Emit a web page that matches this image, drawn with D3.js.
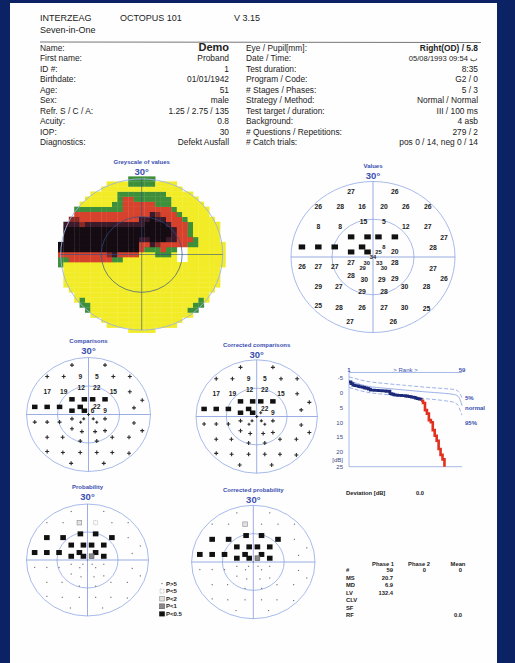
<!DOCTYPE html>
<html><head><meta charset="utf-8">
<script src="https://cdn.jsdelivr.net/npm/d3@7"></script>
<style>
html,body{margin:0;padding:0;background:#0b2265;}
svg{display:block;}
text{font-family:"Liberation Sans",Arial,sans-serif;}
</style></head><body>
<svg id="c" width="515" height="663"></svg>
<script>
// ---- Test point grid (degrees, right eye) ----
const pointX = [-8,8,-20,-12,-4,4,12,20,-20,-12,-3.5,4,12,20,26,-8,-2,2,8,-26,-20,-14,-4,4,-8,-2,2,8,22,0,
  -26,-20,-14,-8,-2.3,2.3,8,-3.8,4,22,26,-8,-3.2,3.2,8,-20,-12.5,-4,4,11.5,19.6,-20,-12.4,-4,4,11.5,19.6,-8.4,7.4];
const pointY = [26,26,20,20,20,20,20,20,12,12,14,14,12,12,7.5,8,8,8,8,4,4,4,4,4,2,2,2,2,3.5,0,
  -4,-4,-4,-2.3,-2.3,-2.3,-2.3,-4.1,-4.1,-4.5,-8.5,-7.5,-9,-9,-8.5,-12,-12,-14,-14,-12,-12,-19.5,-20,-20,-20,-20,-20.4,-25.7,-25.7];
// Measured thresholds in dB (0 = absolute defect, drawn as a square)
const thresholds = [27,26,26,28,16,20,26,26,8,8,15,5,12,27,27,0,0,0,0,0,0,0,0,8,0,0,25,20,28,34,
  26,27,27,27,30,33,28,29,30,27,26,28,30,29,29,29,27,29,28,30,28,25,28,26,27,30,25,27,26];
// Local deviation from normal (null = within normal range, shown as +)
const comparisons = [null,null,null,null,9,5,null,null,17,19,12,22,15,null,null,null,null,null,null,null,null,null,null,22,null,null,6,9,null,null,
  null,null,null,null,null,null,null,null,null,null,null,null,null,null,null,null,null,null,null,null,null,null,null,null,null,null,null,null,null];
const correctedComparisons = [null,null,null,null,9,5,null,null,17,19,12,22,15,null,null,null,null,null,null,null,null,null,null,22,null,null,null,9,null,null,
  null,null,null,null,null,null,null,null,null,null,null,null,null,null,null,null,null,null,null,null,null,null,null,null,null,null,null,null,null];
// Probability class: 0 P>5, 1 P<5, 2 P<2, 3 P<1, 4 P<0.5
const probability = [0,0,0,0,2,1,0,0,4,4,4,4,4,0,0,4,4,4,4,4,4,4,4,4,4,4,3,4,0,0,
  0,0,0,0,0,0,0,0,0,0,0,0,0,0,0,0,0,0,0,0,0,0,0,0,0,0,0,0,0];
const correctedProbability = [0,0,0,0,2,0,0,0,4,4,4,4,4,0,0,4,4,4,4,4,4,4,4,4,4,4,3,4,0,0,
  0,0,0,0,0,0,0,0,0,0,0,0,0,0,0,0,0,0,0,0,0,0,0,0,0,0,0,0,0];
const probLegend = ["P>5","P<5","P<2","P<1","P<0.5"];
// Blind spot (degrees) left blank in the greyscale
const blindSpotX = [13,17];
const blindSpotY = [-3,3];

// ---- Cumulative defect curve (Bebie) ----
const rankDeviation = [-3.8,-3.2,-2.7,-2.5,-2.4,-2.2,-2.1,-1.9,-1.7,-1.6,-1.3,-1.0,-1.0,-0.9,-0.9,-0.8,-0.8,-0.7,-0.7,-0.6,
  -0.6,0.2,0.4,0.6,0.7,0.8,0.8,0.9,0.9,1.0,1.1,1.2,1.4,1.5,1.7,1.9,2.1,2.6,3.4,5.8,7.0,9.2,9.9,12.6,14.5,16.2,19.0,21.0,22.5,25.0];
const refRanks = [1,10,20,30,40,50,55,57,58,59];
const ref5 = [-5.5,-4.0,-3.2,-2.6,-2.0,-1.5,-1.2,-0.6,0.2,1.5];
const refNormal = [-4.2,-2.4,-1.6,-1.0,-0.4,0.1,0.5,1.1,2.2,4.3];
const ref95 = [-1.9,-0.3,0.5,1.2,1.9,2.6,3.2,4.2,5.8,7.5];
const dbTicks = [-5,0,5,10,15,20,25];

// ---- Header / patient data ----
const infoLabels = ["Name:","First name:","ID #:","Birthdate:","Age:","Sex:","Refr. S / C / A:","Acuity:","IOP:","Diagnostics:"];
const infoValues = ["Demo","Proband","1","01/01/1942","51","male","1.25 / 2.75 / 135","0.8","30","Defekt Ausfall"];
const testLabels = ["Eye / Pupil[mm]:","Date / Time:","Test duration:","Program / Code:","# Stages / Phases:","Strategy / Method:","Test target / duration:","Background:","# Questions / Repetitions:","# Catch trials:"];
const testValues = ["Right(OD) / 5.8","05/08/1993    09:54 ب","8:35","G2 / 0","5 / 3","Normal / Normal","III / 100 ms","4 asb","279 / 2","pos 0 / 14, neg 0 / 14"];
const statRows = ["#","MS","MD","LV","CLV","SF","RF"];
const statPhase1 = ["59","20.7","6.9","132.4","","",""];
const statPhase2 = ["0","","","","","",""];
const statMean = ["0","","","","","","0.0"];

const svg = d3.select("#c");
const BLUE = "#3a4fb0", LINE = "#9db2e8", AX = "#8399dd", INK = "#222";

svg.append("rect").attr("x",10).attr("y",3).attr("width",487).attr("height",670).attr("fill","#fefefe");

// Header
const hdr = svg.append("g").attr("fill",INK).attr("font-size",9);
hdr.append("text").attr("x",40).attr("y",20.5).text("INTERZEAG");
hdr.append("text").attr("x",40).attr("y",33).text("Seven-in-One");
hdr.append("text").attr("x",120).attr("y",20.5).text("OCTOPUS  101");
hdr.append("text").attr("x",234).attr("y",20.5).text("V 3.15");
svg.append("line").attr("x1",40).attr("x2",481).attr("y1",42).attr("y2",42.5).attr("stroke","#666").attr("stroke-width",0.9);

const rowY = i => 51 + i*10.45;
const info = svg.append("g").attr("fill",INK).attr("font-size",8.4);
infoLabels.forEach((t,i)=>info.append("text").attr("x",40).attr("y",rowY(i)).text(t));
infoValues.forEach((t,i)=>info.append("text").attr("x",229).attr("y",rowY(i)).attr("text-anchor","end")
  .attr("font-size",i===0?11:8.4).attr("font-weight",i===0?"bold":null).text(t));
testLabels.forEach((t,i)=>info.append("text").attr("x",246).attr("y",rowY(i)).text(t));
testValues.forEach((t,i)=>info.append("text").attr("x",478).attr("y",rowY(i)).attr("text-anchor","end")
  .attr("font-weight",i===0?"bold":null)
  .attr("font-family",i===1?"'Liberation Serif',serif":null).attr("font-size",i===1?7.6:8.4).text(t));

// ---- Polar panel helper ----
function panel(cfg){
  const g = svg.append("g");
  const x = d3.scaleLinear().domain([-30,30]).range([cfg.cx-cfg.rx, cfg.cx+cfg.rx]);
  const y = d3.scaleLinear().domain([-30,30]).range([cfg.cy+cfg.ry, cfg.cy-cfg.ry]);
  g.append("text").attr("x",cfg.cx).attr("y",cfg.ty).attr("text-anchor","middle").attr("fill",BLUE)
    .attr("font-size",6).attr("font-weight","bold").text(cfg.title);
  g.append("text").attr("x",cfg.cx).attr("y",cfg.ty+11).attr("text-anchor","middle").attr("fill",BLUE)
    .attr("font-size",9.5).attr("font-weight","bold").text("30°");
  return {g,x,y,cfg};
}
function frame(p, axisColor, innerColor, op){
  const {g,x,y}=p;
  const f = g.append("g").attr("fill","none");
  f.append("ellipse").attr("cx",x(0)).attr("cy",y(0)).attr("rx",x(30)-x(0)).attr("ry",y(0)-y(30))
    .attr("stroke",LINE).attr("stroke-width",0.9);
  f.append("ellipse").attr("cx",x(0)).attr("cy",y(0)).attr("rx",x(15)-x(0)).attr("ry",y(0)-y(15))
    .attr("stroke",innerColor||LINE).attr("stroke-width",0.9).attr("opacity",op||1);
  f.append("line").attr("x1",x(-30)).attr("x2",x(30)).attr("y1",y(0)).attr("y2",y(0)).attr("stroke",axisColor||AX).attr("stroke-width",0.8).attr("opacity",op||1);
  f.append("line").attr("x1",x(0)).attr("x2",x(0)).attr("y1",y(-30)).attr("y2",y(30)).attr("stroke",axisColor||AX).attr("stroke-width",0.8).attr("opacity",op||1);
}
const idx = d3.range(pointX.length);

// ---- Greyscale of values: linear interpolation on a Delaunay mesh, IDW beyond the hull ----
(function(){
  const p = panel({cx:141.7,cy:254.5,rx:81,ry:75.6,ty:163.5,title:"Greyscale of values"});
  const {g,x,y}=p;
  const del = d3.Delaunay.from(idx.map(i=>[pointX[i],pointY[i]]));
  const tri = del.triangles;
  function value(px,py){
    for(let t=0;t<tri.length;t+=3){
      const a=tri[t],b=tri[t+1],c=tri[t+2];
      const x1=pointX[a],y1=pointY[a],x2=pointX[b],y2=pointY[b],x3=pointX[c],y3=pointY[c];
      const d=(y2-y3)*(x1-x3)+(x3-x2)*(y1-y3);
      const l1=((y2-y3)*(px-x3)+(x3-x2)*(py-y3))/d;
      const l2=((y3-y1)*(px-x3)+(x1-x3)*(py-y3))/d;
      const l3=1-l1-l2;
      if(l1>=-1e-9&&l2>=-1e-9&&l3>=-1e-9) return l1*thresholds[a]+l2*thresholds[b]+l3*thresholds[c];
    }
    const near = idx.map(i=>({i,d:Math.hypot(pointX[i]-px,pointY[i]-py)})).sort((a,b)=>a.d-b.d).slice(0,3);
    let sw=0,sv=0; near.forEach(n=>{const w=1/Math.pow(n.d+0.01,3); sw+=w; sv+=w*thresholds[n.i];});
    return sv/sw;
  }
  const color = d3.scaleThreshold().domain([7,10.5,12,21,25.5])
    .range(["#140c12","#3b1a2a","#8a2a26","#d6422c","#3e8f3a","#f2ec26"]);
  const cells=[];
  for(let gx=-30;gx<=30;gx+=2) for(let gy=-30;gy<=30;gy+=2){
    if(Math.hypot(gx,gy)>30.5) continue;
    if(gx>blindSpotX[0]&&gx<blindSpotX[1]&&gy>blindSpotY[0]&&gy<blindSpotY[1]) continue;
    cells.push({gx,gy,v:value(gx,gy)});
  }
  g.append("g").selectAll("rect").data(cells).join("rect")
    .attr("x",d=>x(d.gx-1)).attr("y",d=>y(d.gy+1))
    .attr("width",d=>x(d.gx+1)-x(d.gx-1)+0.3).attr("height",d=>y(d.gy-1)-y(d.gy+1)+0.3)
    .attr("fill",d=>color(d.v));
  frame(p,"#2d4f8a","#2d4f8a",0.75);
})();

// ---- Values ----
function drawSquare(g,cx,cy,w,h,fill){
  g.append("rect").attr("x",cx-w/2).attr("y",cy-h/2).attr("width",w).attr("height",h).attr("fill",fill||"#111");
}
(function(){
  const p = panel({cx:373,cy:257,rx:82,ry:75.5,ty:168,title:"Values"});
  frame(p);
  const {g,x,y}=p;
  idx.forEach(i=>{
    const central = Math.hypot(pointX[i],pointY[i])<6;
    if(thresholds[i]<=0) drawSquare(g,x(pointX[i]),y(pointY[i]),6.5,5);
    else g.append("text").attr("x",x(pointX[i])).attr("y",y(pointY[i])+2.2).attr("text-anchor","middle")
      .attr("font-size",central?5.8:6.8).attr("font-weight","bold").attr("fill",INK).text(thresholds[i]);
  });
})();

// ---- Comparisons ----
function plus(g,cx,cy,s){
  g.append("path").attr("d",`M${cx-s},${cy}H${cx+s}M${cx},${cy-s}V${cy+s}`).attr("stroke","#2a2a2a").attr("stroke-width",1.1);
}
function comparisonPanel(cfg,dev){
  const p = panel(cfg); frame(p);
  const {g,x,y}=p;
  idx.forEach(i=>{
    const px=x(pointX[i]), py=y(pointY[i]);
    if(thresholds[i]<=0) drawSquare(g,px,py,5.5,4.5);
    else if(dev[i]!==null) g.append("text").attr("x",px).attr("y",py+2.3).attr("text-anchor","middle")
      .attr("font-size",6.6).attr("font-weight","bold").attr("fill",INK).text(dev[i]);
    else plus(g,px,py,Math.hypot(pointX[i],pointY[i])<6?1.5:2);
  });
}
comparisonPanel({cx:88.5,cy:414.5,rx:62,ry:57,ty:343,title:"Comparisons"},comparisons);
comparisonPanel({cx:256.7,cy:416.5,rx:60.7,ry:56.7,ty:346.5,title:"Corrected comparisons"},correctedComparisons);

// ---- Probability ----
function probSymbol(g,px,py,k){
  if(k===0) g.append("rect").attr("x",px-0.6).attr("y",py-0.6).attr("width",1.2).attr("height",1.2).attr("fill","#777");
  else if(k===1) g.append("rect").attr("x",px-2).attr("y",py-2).attr("width",4).attr("height",4).attr("fill","none").attr("stroke","#999").attr("stroke-width",0.6).attr("stroke-dasharray","0.8,0.6");
  else if(k===2) g.append("rect").attr("x",px-2.3).attr("y",py-2.3).attr("width",4.6).attr("height",4.6).attr("fill","#e2e2e2").attr("stroke","#999").attr("stroke-width",0.7);
  else if(k===3) g.append("rect").attr("x",px-2.4).attr("y",py-2.4).attr("width",4.8).attr("height",4.8).attr("fill","#8a8a8a").attr("stroke","#555").attr("stroke-width",0.6);
  else g.append("rect").attr("x",px-2.8).attr("y",py-2.5).attr("width",5.6).attr("height",5).attr("fill","#111");
}
function probabilityPanel(cfg,cls){
  const p = panel(cfg); frame(p);
  const {g,x,y}=p;
  idx.forEach(i=>probSymbol(g,x(pointX[i]),y(pointY[i]),cls[i]));
}
probabilityPanel({cx:87.5,cy:560,rx:61,ry:56,ty:489,title:"Probability"},probability);
probabilityPanel({cx:253.3,cy:562,rx:61.7,ry:56.7,ty:492,title:"Corrected probability"},correctedProbability);

// Legend
(function(){
  const g = svg.append("g");
  probLegend.forEach((t,k)=>{
    const yy = 583.5 + k*7.6;
    probSymbol(g,162,yy,k);
    g.append("text").attr("x",166).attr("y",yy+2).attr("font-size",6).attr("font-weight","bold").attr("fill",INK).text(t);
  });
})();

// ---- Bebie curve ----
(function(){
  const g = svg.append("g");
  const x = d3.scaleLinear().domain([1,59]).range([349,462]);
  const y = d3.scaleLinear().domain([-5,25]).range([378.3,466.7]);
  const top = 372.5, bottom = y(25);
  g.append("path").attr("d",`M${x(59)},${top}H${x(1)}V${bottom}H${x(59)}`).attr("fill","none").attr("stroke",LINE).attr("stroke-width",0.9);
  g.append("text").attr("x",x(1)).attr("y",top-0.5).attr("font-size",6).attr("font-weight","bold").attr("fill",BLUE).attr("text-anchor","middle").text("1");
  g.append("text").attr("x",x(30)).attr("y",top-0.5).attr("font-size",6).attr("fill",BLUE).attr("text-anchor","middle").text(">  Rank  >");
  g.append("text").attr("x",x(59)).attr("y",top-0.5).attr("font-size",6).attr("font-weight","bold").attr("fill",BLUE).attr("text-anchor","middle").text("59");
  dbTicks.forEach(v=>g.append("text").attr("x",343).attr("y",y(v)+2).attr("text-anchor","end").attr("font-size",6).attr("fill","#3a4a8a").text(v));
  g.append("text").attr("x",343).attr("y",y(22.6)+2).attr("text-anchor","end").attr("font-size",6).attr("fill","#3a4a8a").text("[dB]");
  const refLine = d3.line().x((d,i)=>x(refRanks[i])).y(d=>y(d)).curve(d3.curveMonotoneX);
  g.append("path").attr("d",refLine(ref5)).attr("fill","none").attr("stroke",LINE).attr("stroke-width",1).attr("stroke-dasharray","4,2");
  g.append("path").attr("d",refLine(refNormal)).attr("fill","none").attr("stroke",LINE).attr("stroke-width",1);
  g.append("path").attr("d",refLine(ref95)).attr("fill","none").attr("stroke",LINE).attr("stroke-width",1).attr("stroke-dasharray","4,2");
  const pts = rankDeviation.map((v,i)=>[i+1,v]);
  const split = 38;
  const line = d3.line().x(d=>x(d[0])).y(d=>y(d[1])).curve(d3.curveStepAfter);
  g.append("path").attr("d",line(pts.slice(0,split))).attr("fill","none").attr("stroke","#1c2a7a").attr("stroke-width",2.8);
  g.append("path").attr("d",line(pts.slice(split-1))).attr("fill","none").attr("stroke","#e0301e").attr("stroke-width",2.6);
  ["5%","normal","95%"].forEach((t,k)=>{
    g.append("text").attr("x",465).attr("y",[400,410,425][k]).attr("font-size",6).attr("font-weight","bold").attr("fill",BLUE).text(t);
  });
})();

// ---- Statistics ----
(function(){
  const g = svg.append("g").attr("fill",INK).attr("font-size",5.8).attr("font-weight","bold");
  g.append("text").attr("x",346).attr("y",495).text("Deviation [dB]");
  g.append("text").attr("x",420).attr("y",495).attr("text-anchor","middle").text("0.0");
  g.append("text").attr("x",383).attr("y",566).attr("text-anchor","middle").text("Phase 1");
  g.append("text").attr("x",419).attr("y",566).attr("text-anchor","middle").text("Phase 2");
  g.append("text").attr("x",458).attr("y",566).attr("text-anchor","middle").text("Mean");
  statRows.forEach((t,i)=>{
    const yy = 572 + i*7.5;
    g.append("text").attr("x",346).attr("y",yy).text(t);
    g.append("text").attr("x",393).attr("y",yy).attr("text-anchor","end").text(statPhase1[i]);
    g.append("text").attr("x",426).attr("y",yy).attr("text-anchor","end").text(statPhase2[i]);
    g.append("text").attr("x",462).attr("y",yy).attr("text-anchor","end").text(statMean[i]);
  });
})();
</script>
</body></html>
